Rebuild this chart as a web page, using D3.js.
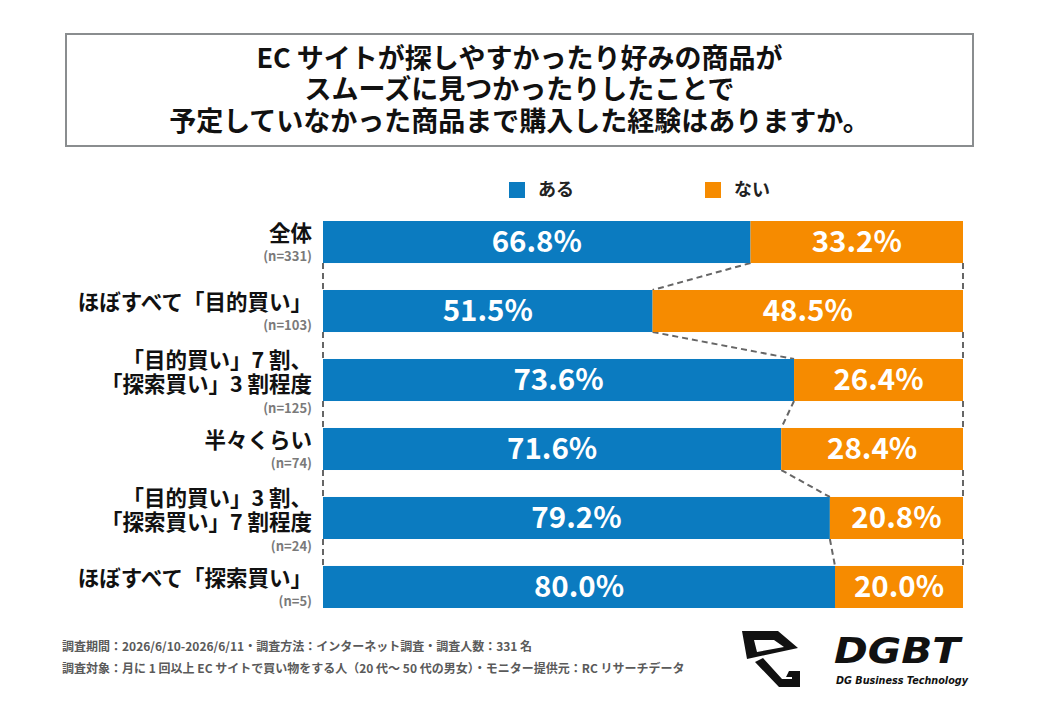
<!DOCTYPE html>
<html>
<head>
<meta charset="utf-8">
<script src="https://cdn.jsdelivr.net/npm/d3@7"></script>
<style>
  html, body { margin: 0; padding: 0; background: #fff; }
  svg { display: block; font-family: "Noto Sans CJK JP", "Noto Sans", sans-serif; }
</style>
</head>
<body>
<svg id="chart" width="1039" height="706"></svg>
<script>
const titleLines = [
  "EC サイトが探しやすかったり好みの商品が",
  "スムーズに見つかったりしたことで",
  "予定していなかった商品まで購入した経験はありますか。"
];
const seriesNames = ["ある", "ない"];
const categories = [
  "全体",
  "ほぼすべて「目的買い」",
  "「目的買い」7 割、\n「探索買い」3 割程度",
  "半々くらい",
  "「目的買い」3 割、\n「探索買い」7 割程度",
  "ほぼすべて「探索買い」"
];
const sampleSizes = ["(n=331)", "(n=103)", "(n=125)", "(n=74)", "(n=24)", "(n=5)"];
const aruValues = [66.8, 51.5, 73.6, 71.6, 79.2, 80.0];
const naiValues = [33.2, 48.5, 26.4, 28.4, 20.8, 20.0];
const footerLines = [
  "調査期間：2026/6/10-2026/6/11・調査方法：インターネット調査・調査人数：331 名",
  "調査対象：月に 1 回以上 EC サイトで買い物をする人（20 代～ 50 代の男女）・モニター提供元：RC リサーチデータ"
];

const colors = { aru: "#0b7bc0", nai: "#f68b00" };
const svg = d3.select("#chart");

// Title box
svg.append("rect").attr("x", 66).attr("y", 34).attr("width", 907).attr("height", 112)
  .attr("fill", "#fff").attr("stroke", "#8a8d8f").attr("stroke-width", 2);
const title = svg.append("text")
  .attr("text-anchor", "middle")
  .attr("font-size", 27).attr("font-weight", 700).attr("fill", "#111");
title.selectAll("tspan").data(titleLines).join("tspan")
  .attr("x", 519.5).attr("y", (d, i) => 58 + i * 31.5 + 9.7)
  .text(d => d);

// Legend
const legendX = [509, 705];
const lg = svg.selectAll("g.legend").data(seriesNames).join("g")
  .attr("class", "legend")
  .attr("transform", (d, i) => `translate(${legendX[i]},190)`);
lg.append("rect").attr("x", 0).attr("y", -8).attr("width", 16).attr("height", 16)
  .attr("fill", (d, i) => i === 0 ? colors.aru : colors.nai);
lg.append("text").attr("x", 29).attr("y", 0).attr("dy", "0.36em")
  .attr("font-size", 18).attr("font-weight", 700).attr("fill", "#222")
  .text(d => d);

// Scales
const x = d3.scaleLinear().domain([0, 100]).range([323, 963]);
const y = d3.scaleBand().domain(categories).range([221, 608]).paddingInner(0.391).paddingOuter(0);
const bw = y.bandwidth();

const rows = categories.map((c, i) => ({ cat: c, n: sampleSizes[i], aru: aruValues[i], nai: naiValues[i] }));

// Connector dashed lines
const conn = svg.append("g").attr("stroke", "#666").attr("stroke-width", 2)
  .attr("stroke-dasharray", "6,4").attr("fill", "none");
for (let i = 0; i < rows.length - 1; i++) {
  const y0 = y(rows[i].cat) + bw, y1 = y(rows[i + 1].cat);
  conn.append("line").attr("x1", x(rows[i].aru)).attr("y1", y0)
    .attr("x2", x(rows[i + 1].aru)).attr("y2", y1);
  conn.append("line").attr("x1", x(0)).attr("y1", y0).attr("x2", x(0)).attr("y2", y1);
  conn.append("line").attr("x1", x(100)).attr("y1", y0).attr("x2", x(100)).attr("y2", y1);
}

// Bars
const g = svg.selectAll("g.row").data(rows).join("g").attr("class", "row");
g.append("rect").attr("x", x(0)).attr("y", d => y(d.cat))
  .attr("width", d => x(d.aru) - x(0)).attr("height", bw).attr("fill", colors.aru);
g.append("rect").attr("x", d => x(d.aru)).attr("y", d => y(d.cat))
  .attr("width", d => x(d.aru + d.nai) - x(d.aru)).attr("height", bw).attr("fill", colors.nai);

g.append("text").attr("x", d => (x(0) + x(d.aru)) / 2).attr("y", d => y(d.cat) + bw / 2)
  .attr("dy", "0.35em").attr("text-anchor", "middle")
  .attr("font-size", 29.5).attr("font-weight", 700).attr("fill", "#fff")
  .text(d => d.aru.toFixed(1) + "%");
g.append("text").attr("x", d => (x(d.aru) + x(d.aru + d.nai)) / 2).attr("y", d => y(d.cat) + bw / 2)
  .attr("dy", "0.35em").attr("text-anchor", "middle")
  .attr("font-size", 29.5).attr("font-weight", 700).attr("fill", "#fff")
  .text(d => d.nai.toFixed(1) + "%");

// Category labels
g.each(function(d) {
  const sel = d3.select(this);
  const lines = d.cat.split("\n");
  const cy = y(d.cat) + bw / 2;
  const offs = lines.length === 1 ? [-9] : [-19.5, 4];
  const t = sel.append("text").attr("text-anchor", "end")
    .attr("font-size", 21.5).attr("font-weight", 700).attr("fill", "#111");
  lines.forEach((ln, k) => {
    t.append("tspan").attr("x", 312).attr("y", cy + offs[k] + 7.7).text(ln);
  });
  sel.append("text").attr("x", 312).attr("y", cy + (lines.length === 1 ? 14 : 28.5) + 4.7)
    .attr("text-anchor", "end").attr("font-size", 13).attr("font-weight", 700).attr("fill", "#7a7a7a")
    .text(d.n);
});

// Footer
svg.selectAll("text.footer").data(footerLines).join("text")
  .attr("class", "footer")
  .attr("x", 62).attr("y", (d, i) => 647 + i * 22).attr("dy", "0.36em")
  .attr("font-size", 12).attr("font-weight", 700).attr("fill", "#5a5a5a")
  .text(d => d);

// Logo
const logo = svg.append("g");
logo.append("path")
  .attr("d", "M742,631 L778,631 L798,648 L747,659 Z M754,640 L774,640 L784,647 L757,652 Z")
  .attr("fill", "#111").attr("fill-rule", "evenodd");
logo.append("path")
  .attr("d", "M755,662 L763,658 L782,679 L792,679 L792,677 L786,677 L789,671 L800,671 L800,687 L779,687 Z")
  .attr("fill", "#111");
logo.append("text").attr("x", 834).attr("y", 663)
  .attr("font-family", "DejaVu Sans").attr("font-size", 36).attr("font-weight", 700)
  .attr("font-style", "italic").attr("fill", "#111")
  .attr("textLength", 126).attr("lengthAdjust", "spacingAndGlyphs")
  .text("DGBT");
logo.append("text").attr("x", 836).attr("y", 684)
  .attr("font-family", "DejaVu Sans").attr("font-size", 10).attr("font-weight", 700)
  .attr("font-style", "italic").attr("fill", "#111")
  .attr("textLength", 132).attr("lengthAdjust", "spacingAndGlyphs")
  .text("DG Business Technology");
</script>
</body>
</html>
